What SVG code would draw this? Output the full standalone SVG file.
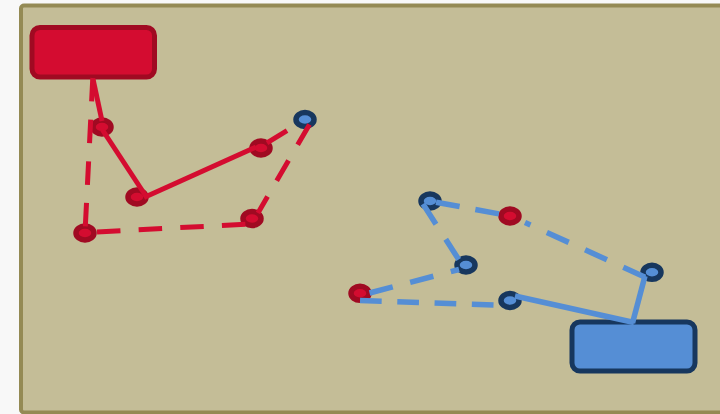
<svg xmlns="http://www.w3.org/2000/svg" width="720" height="414" viewBox="0 0 720 414">
<style>
.rbox{fill:#d40c30;stroke:#a00a22;stroke-width:5}
.bbox{fill:#558ed5;stroke:#17375e;stroke-width:5}
.rn{fill:#d40c30;stroke:#a00a22;stroke-width:5.5}
.bn{fill:#558ed5;stroke:#17375e;stroke-width:5.5}
.r{stroke:#d40c30;stroke-width:5;fill:none}
.b{stroke:#558ed5;stroke-width:5.5;fill:none}
.rd{stroke-dasharray:23.5 18.2}
.bd{stroke-dasharray:24 18}
</style>
<rect x="0" y="0" width="720" height="414" fill="#f8f8f8"/>
<rect x="21" y="5.5" width="720" height="407" rx="3" fill="#c4bd97" stroke="#948a54" stroke-width="4"/>
<g id="red-box"><rect class="rbox" x="32" y="27.5" width="122.5" height="49.5" rx="8"/></g>
<g id="blue-box"><rect class="bbox" x="572" y="322" width="123" height="49" rx="8"/></g>
<g id="n1"><ellipse class="rn" cx="102" cy="127" rx="9" ry="7"/></g>
<g id="n2"><ellipse class="rn" cx="137" cy="197" rx="9" ry="7"/></g>
<g id="n3"><ellipse class="rn" cx="261" cy="148" rx="9" ry="7"/></g>
<g id="n4"><ellipse class="rn" cx="252" cy="218.5" rx="9" ry="7"/></g>
<g id="n5"><ellipse class="rn" cx="85" cy="233" rx="9" ry="7"/></g>
<g id="n6"><ellipse class="bn" cx="305" cy="119.5" rx="9" ry="7"/></g>
<g id="n7"><ellipse class="bn" cx="430" cy="201" rx="9" ry="7"/></g>
<g id="n8"><ellipse class="rn" cx="510" cy="216" rx="9" ry="7"/></g>
<g id="n9"><ellipse class="bn" cx="466" cy="265" rx="9" ry="7"/></g>
<g id="n10"><ellipse class="rn" cx="360" cy="293.3" rx="9" ry="7"/></g>
<g id="n11"><ellipse class="bn" cx="510" cy="300.5" rx="9" ry="7"/></g>
<g id="n12"><ellipse class="bn" cx="652" cy="272.3" rx="9" ry="7"/></g>
<g id="connectors">
<line class="r" x1="93" y1="79" x2="102" y2="121"/>
<line class="r" x1="102.5" y1="130" x2="146.5" y2="197"/>
<line class="r" x1="144" y1="197.5" x2="256" y2="147"/>
<line class="r rd" x1="261" y1="146.5" x2="301" y2="122" stroke-dashoffset="34.7"/>
<line class="r rd" x1="309.5" y1="124.5" x2="258" y2="213"/>
<line class="r rd" x1="85" y1="232.5" x2="247" y2="224.2" stroke-dashoffset="29.7"/>
<line class="r rd" x1="92.8" y1="78" x2="85" y2="233"/>
<line class="b" x1="436" y1="202.2" x2="505" y2="215" stroke-dasharray="24 16"/>
<line class="b bd" x1="525" y1="222.5" x2="647" y2="278" stroke-dashoffset="18"/>
<line class="b" x1="645" y1="276" x2="632.5" y2="323"/>
<line class="b" x1="515" y1="296" x2="634" y2="322.5"/>
<line class="b bd" x1="423" y1="204" x2="458.7" y2="259.5"/>
<line class="b bd" x1="459" y1="269.5" x2="369.5" y2="293" stroke-dashoffset="15.5"/>
<line class="b" x1="360" y1="300.5" x2="494" y2="305" stroke-dasharray="21.7 15.6"/>
</g>
</svg>
